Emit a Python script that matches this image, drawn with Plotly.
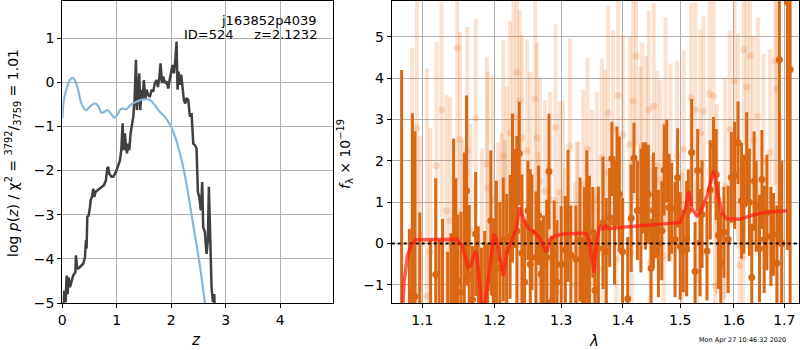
import plotly.graph_objects as go

# ---------------- left panel: log p(z) ----------------
z_pz = [0.01, 0.037, 0.061, 0.08, 0.098, 0.116, 0.141, 0.171, 0.2, 0.24, 0.25, 0.275, 0.32, 0.385, 0.416,
        0.434, 0.446, 0.459, 0.483, 0.508, 0.52, 0.544, 0.569, 0.587, 0.612, 0.642, 0.679, 0.722, 0.765,
        0.801, 0.826, 0.844, 0.862, 0.905, 0.936, 0.985, 1.028, 1.058, 1.083, 1.107, 1.125, 1.15, 1.168,
        1.187, 1.211, 1.229, 1.254, 1.278, 1.303, 1.327, 1.352, 1.37, 1.388, 1.413, 1.431, 1.456, 1.474,
        1.498, 1.523, 1.547, 1.578, 1.609, 1.639, 1.67, 1.7, 1.731, 1.755, 1.78, 1.804, 1.829, 1.853,
        1.884, 1.914, 1.945, 1.976, 2.006, 2.024, 2.049, 2.073, 2.098, 2.116, 2.135, 2.159, 2.183, 2.208,
        2.232, 2.257, 2.281, 2.312, 2.343, 2.373, 2.404, 2.434, 2.465, 2.489, 2.514, 2.544, 2.569, 2.587,
        2.618, 2.648, 2.673, 2.691, 2.716, 2.74, 2.765, 2.789, 2.807]
logp = [-5.3, -4.72, -4.98, -4.38, -4.8, -4.42, -4.64, -4.49, -4.38, -4.3, -3.92, -4.23, -4.19, -4.11, -3.96,
        -3.58, -3.77, -3.05, -3.02, -2.83, -2.67, -2.6, -2.41, -2.6, -2.48, -2.45, -2.41, -2.37, -2.33,
        -2.22, -1.95, -1.92, -2.07, -2.14, -2.14, -2.03, -1.88, -1.77, -1.54, -0.93, -1.54, -1.16, -1.46,
        -1.61, -1.39, -1.54, -1.16, -1.01, -0.78, -0.4, 0.51, -0.63, -0.33, 0.2, -0.63, -0.17, -0.4,
        0.05, -0.4, -0.17, -0.29, -0.33, -0.17, -0.21, -0.02, 0.05, -0.11, 0.09, 0.43, -0.02, 0.13,
        -0.02, 0.02, -0.14, 0.09, 0.24, 0.39, 0.2, 0.47, 0.92, -0.17, 0.24, -0.06, 0.17, -0.1,
        -0.4, -0.48, -0.36, -0.4, -0.78, -0.7, -1.39, -1.42, -1.5, -2.48, -2.6, -2.9, -2.26, -3.28,
        -3.39, -3.89, -3.58, -2.37, -3.43, -4.64, -4.98, -4.8, -5.33]

z_chi = [0.0, 0.03, 0.08, 0.14, 0.18, 0.23, 0.29, 0.35, 0.43, 0.51, 0.6, 0.66, 0.72, 0.77, 0.83, 0.89,
         0.95, 1.01, 1.07, 1.13, 1.18, 1.25, 1.36, 1.49, 1.61, 1.7, 1.79, 1.88, 1.99, 2.07, 2.16, 2.25,
         2.34, 2.43, 2.53, 2.62, 2.68]
chi_curve = [-0.82, -0.4, -0.14, 0.05, 0.1, 0.05, -0.17, -0.48, -0.63, -0.55, -0.48, -0.54, -0.69, -0.67,
             -0.63, -0.7, -0.8, -0.74, -0.61, -0.6, -0.61, -0.52, -0.44, -0.39, -0.4, -0.52, -0.67, -0.78,
             -0.99, -1.23, -1.61, -2.11, -2.75, -3.43, -4.19, -5.02, -5.6]

# ---------------- right panel: spectrum ----------------
lam_dark = [1.073, 1.083, 1.087, 1.0904, 1.0967, 1.111, 1.1179, 1.1226, 1.1271, 1.134, 1.1385, 1.1422,
            1.1454, 1.1477, 1.1523, 1.157, 1.1601, 1.1638, 1.1684, 1.1729, 1.1766, 1.1811, 1.1858, 1.19,
            1.1945, 1.1982,
            1.2025, 1.2075, 1.2125, 1.2175, 1.2225, 1.226, 1.229, 1.2325, 1.236, 1.24, 1.244, 1.249,
            1.2525, 1.255, 1.261, 1.265, 1.269, 1.2725, 1.2775, 1.281, 1.285, 1.289, 1.2934, 1.3,
            1.3065, 1.3107, 1.3151, 1.3232, 1.3297, 1.3334, 1.3367, 1.3406, 1.3448, 1.3503, 1.354, 1.3594,
            1.367, 1.3724, 1.3779, 1.3816, 1.386, 1.3902, 1.3941, 1.3995, 1.4083, 1.4141, 1.4189, 1.4247,
            1.4307, 1.4348, 1.4388, 1.4436, 1.4483, 1.4524, 1.4565, 1.4612, 1.4671, 1.4713, 1.4759, 1.4801,
            1.4847, 1.4907, 1.4953, 1.5, 1.5055, 1.5116, 1.5147, 1.5208, 1.527, 1.5318, 1.5362,
            1.5399, 1.5491, 1.5552, 1.5613, 1.5663, 1.5705, 1.5749, 1.581, 1.589, 1.5952, 1.6014, 1.608,
            1.6148, 1.6194, 1.6248, 1.63, 1.6348, 1.6394, 1.6434, 1.65, 1.6548, 1.6594, 1.6648, 1.6728,
            1.678, 1.6848, 1.69, 1.6948, 1.7063, 1.712]
flux_dark = [-1.6, -1.7, -1.25, -1.28, -1.6, -1.6, -0.75, -1.6, -1.6, -1.6, -1.6, 0.17,
             -0.22, -0.9, -1.18, -1.6, 1.28, -0.77, -1.36, 0.23, -0.78, -1.5, -1.6, -0.9,
             0.55, -1.2,
             -0.38, -0.6, 0.1, -0.2, 0.16, 1.34, 1.09, 0.3, 2.18, -0.23, -0.93, 0.8,
             -0.5, 0.27, -0.34, 0.68, -0.74, -0.52, -0.34, 1.74, -1.41, -0.26, -0.94, -0.5,
             -0.15, 0.67, -0.28, -0.38, 0.1, -1.18, -0.04, 0.35, 0.04, 0.27, -1.13, -0.12,
             0.5, -0.2, 0.63, 2.05, 0.5, 1.63, 1.19, -0.2, -1.34, 0.61, 2.07, 0.8,
             0.8, 1.35, 1.15, 1.19, -0.6, 0.8, 0.75, 0.0, 0.31, 1.78, 2.0, 0.87,
             0.85, 0.1, 1.59, -0.06, -0.18, 0.12, 0.79, 2.2, -0.68, 1.77, 0.02,
             0.71, -0.18, 1.3, 2.36, 1.67, 0.2, -0.46, 0.27, 0.1, 1.6, 1.65, 2.44,
             1.03, 0.95, 2.08, 1.0, -0.82, 1.51, 0.9, -0.12, 1.55, 0.1, 0.75, 0.17,
             0.22, -0.48, 4.45, 0.0, 5.84, 4.21]
err_dark = [5.8, 2.05, 4.4, 4.0, 2.35, 1.7, 2.33, 1.7, 2.2, 1.4, 1.85, 2.37,
            1.8, 1.6, 1.95, 3.8, 2.3, 1.7, 1.3, 1.5, 1.2, 1.4, 1.9, 0.9,
            1.7, 1.8,
            1.9, 1.6, 1.5, 1.4, 1.5, 1.8, 1.2, 2.3, 1.25, 1.9, 1.5, 1.2,
            2.3, 1.4, 1.6, 1.2, 1.3, 1.2, 1.4, 1.4, 1.6, 1.3, 1.5, 1.4,
            1.3, 1.6, 1.2, 1.3, 1.5, 1.3, 1.4, 1.9, 1.6, 1.1, 1.4, 1.5,
            1.6, 1.3, 1.2, 0.9, 1.5, 1.2, 1.4, 1.3, 1.5, 1.3, 0.85, 1.2,
            1.5, 1.1, 1.3, 1.2, 1.2, 1.4, 1.1, 1.3, 1.2, 1.1, 1.0, 1.3,
            1.1, 1.4, 1.2, 1.3, 1.0, 1.4, 1.0, 1.3, 1.2, 1.0, 1.3,
            1.3, 1.2, 1.2, 0.7, 1.1, 1.3, 1.2, 1.1, 1.3, 1.1, 1.3, 1.0,
            1.4, 1.2, 1.1, 1.3, 1.3, 1.2, 1.1, 1.3, 1.2, 1.3, 1.4, 1.2,
            1.0, 1.4, 4.5, 2.0, 6.0, 6.0]

lam_light = [1.0866, 1.0929, 1.0971, 1.1061, 1.1106, 1.1189, 1.1257, 1.1322, 1.1372, 1.1473, 1.1509,
             1.1542, 1.1611, 1.1656, 1.1729, 1.1817, 1.1886, 1.19, 1.1977, 1.205, 1.21, 1.2125, 1.215,
             1.2175, 1.2225, 1.2275, 1.2325, 1.235, 1.2365, 1.24, 1.2475, 1.2525, 1.26, 1.2625, 1.265,
             1.2675, 1.275, 1.28, 1.2825, 1.291, 1.2925, 1.2975, 1.3026, 1.3054, 1.3135, 1.3216, 1.3243,
             1.327, 1.3351, 1.3406, 1.3416, 1.3487, 1.354, 1.3568, 1.3649, 1.3676, 1.3703, 1.3756, 1.3837,
             1.3893, 1.3919, 1.4, 1.4118, 1.4148, 1.4176, 1.4224, 1.4295, 1.4325, 1.44, 1.4441, 1.4471,
             1.4529, 1.4589, 1.4647, 1.4706, 1.4736, 1.4824, 1.4942, 1.5031, 1.5061, 1.5197, 1.5276,
             1.5307, 1.5368, 1.5429, 1.5539, 1.5613, 1.5644, 1.5675, 1.5797, 1.5828, 1.5921, 1.6014,
             1.608, 1.6114, 1.618, 1.6194, 1.6248, 1.6314, 1.638, 1.6468, 1.658, 1.6714, 1.6814, 1.6848,
             1.6914]
flux_light = [-1.26, 2.8, 0.2, -1.27, -0.2, 1.88, 3.24, 0.79, 0.55, 4.73, 2.52,
              -0.3, 2.24, 0.3, 3.04, -0.6, 1.92, 1.35, 1.07, -0.06, 0.27, 2.12, -0.1,
              0.9, 2.68, 3.08, 4.14, 0.5, 3.46, 2.56, 2.24, 1.55, 3.5, 2.56, -0.38,
              1.51, 1.27, -0.46, 1.07, 2.81, -1.18, 1.23, 1.07, -0.46, 2.36, -1.02, 0.06,
              0.27, 1.43, -0.54, 2.29, 0.83, -0.94, 1.07, 2.08, -0.62, 1.72, 3.16, 2.76,
              -0.38, 3.58, 2.64, 2.4, -0.22, 3.45, 4.53, 1.88, 2.36, 2.24, 3.24, -0.46,
              3.32, 1.88, 1.55, -0.3, 2.88, 1.96, 2.12, -0.78, 2.28, 3.53, 3.24,
              -0.86, 2.68, 3.2, 3.62, 3.57, -1.02, 1.07, -1.26, 1.39, 2.76, 3.93,
              2.48, -0.54, -0.34, 4.69, 3.79, 4.55, 2.52, 3.07, 1.99, 2.2, 4.41, 3.74,
              0.35]
err_light = [6.0, 5.0, 2.4, 5.5, 3.0, 3.0, 2.6, 2.8, 3.0, 3.2, 2.6,
             2.8, 3.0, 2.6, 2.4, 2.9, 2.6, 2.8, 3.0, 2.5, 2.4, 2.8, 2.6,
             2.9, 2.7, 3.0, 2.8, 2.6, 2.2, 2.5, 2.7, 2.6, 2.4, 2.3, 2.6,
             2.5, 2.2, 2.4, 2.6, 2.5, 2.3, 2.2, 2.4, 2.3, 2.6, 2.5, 2.4,
             2.2, 2.3, 2.5, 2.2, 2.4, 2.3, 2.6, 2.4, 2.3, 2.5, 2.6, 2.4,
             2.5, 2.3, 2.4, 2.6, 2.3, 2.5, 2.2, 2.4, 2.5, 2.3, 2.4, 2.6,
             2.5, 2.3, 2.4, 2.5, 2.6, 2.4, 2.3, 2.5, 2.4, 2.3, 2.6,
             2.4, 2.5, 2.3, 2.4, 2.6, 2.5, 2.3, 2.4, 2.6, 2.4, 2.5,
             2.6, 2.4, 2.5, 2.3, 2.6, 2.4, 2.5, 2.4, 2.6, 2.5, 3.0, 3.0,
             2.8]

lam_model = [1.0743, 1.0761, 1.0804, 1.0861, 1.0917, 1.1106, 1.1335, 1.1472, 1.1541, 1.1624, 1.1656,
             1.1725, 1.1748, 1.1817, 1.1849, 1.1922, 1.1991, 1.2025, 1.2075, 1.2125, 1.2175, 1.225,
             1.2315, 1.2365, 1.2425, 1.25, 1.26, 1.2675, 1.2775, 1.2825, 1.29, 1.3027, 1.3351, 1.3405,
             1.346, 1.3524, 1.3567, 1.3621, 1.3675, 1.3719, 1.3756, 1.3891, 1.4412, 1.5, 1.5092, 1.5153,
             1.5215, 1.5307, 1.5368, 1.5491, 1.5613, 1.5675, 1.5767, 1.5859, 1.6113, 1.6313, 1.658, 1.7047]
flux_model = [-1.6, -0.94, -0.30, -0.02, 0.09, 0.10, 0.10, 0.10, -0.06, -0.58, -0.54,
              -0.18, -0.30, -1.6, -1.6, -0.62, 0.23, 0.10, -0.30, -0.78, -0.22, 0.10,
              0.35, 0.87, 0.59, 0.35, 0.27, 0.10, -0.22, 0.10, 0.18, 0.23, 0.25, 0.23,
              -0.06, -0.70, 0.10, 0.43, 0.35, 0.43, 0.36, 0.38, 0.44, 0.51, 0.83, 1.27,
              0.83, 0.67, 0.75, 1.15, 1.76, 1.31, 0.75, 0.60, 0.59, 0.67, 0.75, 0.79]

z_ticks = [0, 1, 2, 3, 4]
pz_ticks = [-5, -4, -3, -2, -1, 0, 1]
lam_ticks = [1.1, 1.2, 1.3, 1.4, 1.5, 1.6, 1.7]
f_ticks = [-1, 0, 1, 2, 3, 4, 5]

Z_RANGE = [0, 4.97]
PZ_RANGE = [-5.0, 1.84]
LAM_RANGE = [1.0603, 1.7308]
F_RANGE = [-1.44, 5.87]

FONT = "DejaVu Sans"
DARK = "rgb(217,104,20)"
LIGHT = "rgba(232,120,40,0.22)"

fig = go.Figure()

fig.add_trace(go.Scatter(x=z_pz, y=logp, mode="lines", line=dict(color="#404040", width=2.5),
                         xaxis="x", yaxis="y", showlegend=False, hoverinfo="skip"))
fig.add_trace(go.Scatter(x=z_chi, y=chi_curve, mode="lines", line=dict(color="#86b6d9", width=2.2, shape="spline"),
                         xaxis="x", yaxis="y", showlegend=False, hoverinfo="skip"))

fig.add_trace(go.Scatter(x=lam_light, y=flux_light, mode="markers",
                         marker=dict(color=LIGHT, size=7, line=dict(width=0)),
                         error_y=dict(type="data", array=err_light, color=LIGHT, thickness=4, width=0),
                         xaxis="x2", yaxis="y2", showlegend=False, hoverinfo="skip"))
fig.add_trace(go.Scatter(x=lam_dark, y=flux_dark, mode="markers",
                         marker=dict(color=DARK, size=7, line=dict(width=0)),
                         error_y=dict(type="data", array=err_dark, color=DARK, thickness=3, width=0),
                         xaxis="x2", yaxis="y2", showlegend=False, hoverinfo="skip"))
fig.add_trace(go.Scatter(x=LAM_RANGE, y=[0, 0], mode="lines",
                         line=dict(color="black", width=2, dash="dot"),
                         xaxis="x2", yaxis="y2", showlegend=False, hoverinfo="skip"))
fig.add_trace(go.Scatter(x=lam_model, y=flux_model, mode="lines",
                         line=dict(color="rgba(255,30,20,0.72)", width=3.5),
                         xaxis="x2", yaxis="y2", showlegend=False, hoverinfo="skip"))

ax_common = dict(showline=True, linecolor="black", linewidth=1, mirror=True,
                 ticks="outside", ticklen=4, tickcolor="black", automargin=False,
                 showgrid=True, gridcolor="#b0b0b0", gridwidth=1, zeroline=False,
                 tickfont=dict(family=FONT, size=14, color="black"), layer="above traces")

ydom = [47 / 350, 349 / 350]
fig.update_layout(
    width=800, height=350, margin=dict(l=0, r=0, t=0, b=0, autoexpand=False),
    paper_bgcolor="white", plot_bgcolor="white",
    xaxis=dict(domain=[62.3 / 800, 333 / 800], range=Z_RANGE, tickvals=z_ticks, anchor="y", **ax_common),
    yaxis=dict(domain=ydom, range=PZ_RANGE, tickvals=pz_ticks, anchor="x", **ax_common),
    xaxis2=dict(domain=[391.7 / 800, 799.3 / 800], type="log",
                range=[0.02541, 0.23828], tickvals=lam_ticks, ticktext=[str(v) for v in lam_ticks],
                anchor="y2", **ax_common),
    yaxis2=dict(domain=ydom, range=F_RANGE, tickvals=f_ticks, anchor="x2", **ax_common),
    font=dict(family=FONT, size=14, color="black"),
)

ann = [
    dict(text="j163852p4039", x=319 / 800, y=1 - 20 / 350, xanchor="right", yanchor="middle",
         font=dict(size=13)),
    dict(text="ID=524&nbsp;&nbsp;&nbsp;&nbsp;&nbsp;z=2.1232", x=319 / 800, y=1 - 34 / 350, xanchor="right",
         yanchor="middle", font=dict(size=13)),
    dict(text="<i>z</i>", x=196 / 800, y=1 - 340 / 350, xanchor="center", yanchor="middle", font=dict(size=15)),
    dict(text="<i>λ</i>", x=594 / 800, y=1 - 341 / 350, xanchor="center", yanchor="middle", font=dict(size=15)),
    dict(text="log <i>p</i>(<i>z</i>) / χ<sup>2</sup> = <sup>3792</sup>/<sub>3759</sub> = 1.01",
         x=13 / 800, y=1 - 153 / 350, xanchor="center", yanchor="middle", textangle=-90, font=dict(size=14)),
    dict(text="<i>f</i><sub>λ</sub> × 10<sup>−19</sup>", x=345 / 800, y=1 - 154 / 350, xanchor="center",
         yanchor="middle", textangle=-90, font=dict(size=14)),
    dict(text="Mon Apr 27 10:46:32 2020", x=742 / 800, y=1 - 340 / 350, xanchor="center", yanchor="middle",
         font=dict(size=6.5)),
]
for a in ann:
    a.update(xref="paper", yref="paper", showarrow=False)
    fig.add_annotation(**a)

fig.write_html("out.html", config={"displayModeBar": False},
               post_script="document.body.style.margin='0';document.body.style.overflow='hidden';")
